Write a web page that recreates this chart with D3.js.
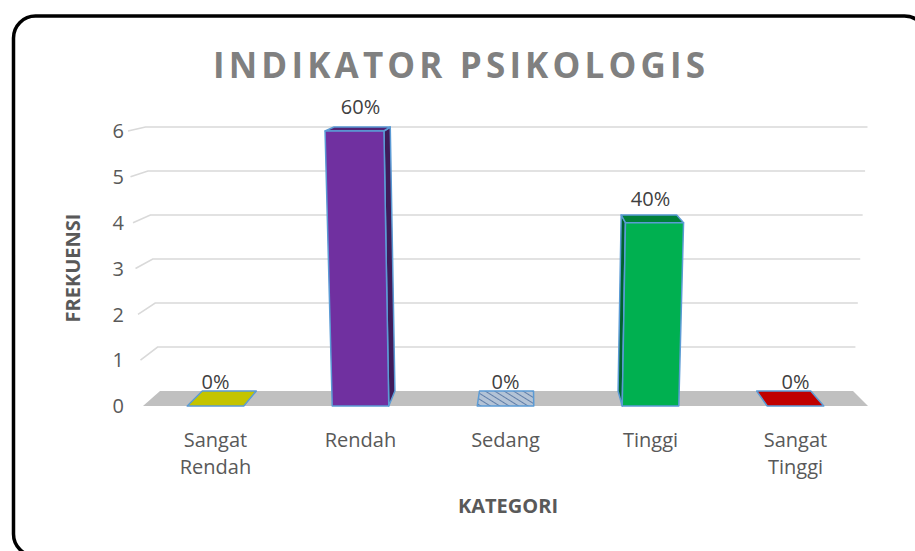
<!DOCTYPE html>
<html>
<head>
<meta charset="utf-8">
<script src="https://cdn.jsdelivr.net/npm/d3@7"></script>
<style>
  html, body { margin: 0; padding: 0; background: #fff; }
  svg { display: block; font-family: "Open Sans", sans-serif; }
</style>
</head>
<body>
<svg id="chart" width="915" height="551"></svg>
<script>
// Chart data
const categories = ["Sangat Rendah", "Rendah", "Sedang", "Tinggi", "Sangat Tinggi"];
const frequencies = [0, 6, 0, 4, 0];
const yTicks = [0, 1, 2, 3, 4, 5, 6];
const barColors = ["#c4c400", "#7030a0", "hatch", "#00b050", "#c00000"];
const chartTitle = "INDIKATOR PSIKOLOGIS";
const xTitle = "KATEGORI";
const yTitle = "FREKUENSI";

const total = d3.sum(frequencies);
const pct = d3.format(".0%");

const svg = d3.select("#chart");

// Hatch fill used by the "Sedang" column
const defs = svg.append("defs");
const pat = defs.append("pattern")
  .attr("id", "hatch").attr("patternUnits", "userSpaceOnUse")
  .attr("width", 5).attr("height", 5)
  .attr("patternTransform", "rotate(-58)");
pat.append("rect").attr("width", 5).attr("height", 5).attr("fill", "#b3c3d6");
pat.append("line").attr("x1", 0).attr("y1", 0).attr("x2", 0).attr("y2", 5)
  .attr("stroke", "#5575a3").attr("stroke-width", 1.8);

// Outer frame
svg.append("rect")
  .attr("x", 13.5).attr("y", 16).attr("width", 913).attr("height", 540)
  .attr("rx", 22).attr("ry", 22)
  .attr("fill", "#fff").attr("stroke", "#000").attr("stroke-width", 3.5);

// 3D perspective box: front plane (d=0) and back wall (d=1)
const yFront = d3.scaleLinear().domain([0, 6]).range([406, 131]);
const yBack = d3.scaleLinear().domain([0, 6]).range([391, 127]);
const halfFront = d3.scaleLinear().domain([0, 6]).range([362.5, 377.5]);
const halfBack = d3.scaleLinear().domain([0, 6]).range([346.5, 361]);
const cxFront = 505.5, cxBack = 506.5;

// Category band along normalised floor width [-1, 1]
const band = d3.scaleBand().domain(categories).range([-1, 1])
  .paddingInner(0.61).paddingOuter(0.305);

function P(u, v, d) {
  const xf = cxFront + u * halfFront(v), xb = cxBack + u * halfBack(v);
  return [(1 - d) * xf + d * xb, (1 - d) * yFront(v) + d * yBack(v)];
}
const poly = pts => "M" + pts.map(p => p.join(",")).join("L") + "Z";

// Floor
svg.append("path")
  .attr("d", poly([P(-1, 0, 0), P(1, 0, 0), P(1, 0, 1), P(-1, 0, 1)]))
  .attr("fill", "#c0c0c0");

// Back-wall gridlines and side-wall segments
const grid = svg.append("g").attr("fill", "none").attr("stroke", "#d9d9d9").attr("stroke-width", 1.6);
yTicks.filter(t => t > 0).forEach(t => {
  grid.append("path").attr("d", "M" + [P(-1, t, 0), P(-1, t, 1), P(1, t, 1)].map(p => p.join(",")).join("L"));
});

// Y tick labels
svg.append("g").selectAll("text").data(yTicks).join("text")
  .attr("x", 124).attr("y", d => yFront(d))
  .attr("dy", "0.36em").attr("text-anchor", "end")
  .attr("font-size", 20).attr("fill", "#595959")
  .text(d => d);

// Columns
const bars = svg.append("g").attr("stroke", "#5b9bd5").attr("stroke-width", 1.5).attr("stroke-linejoin", "round");
categories.forEach((c, i) => {
  const v = frequencies[i];
  const u0 = band(c), u1 = band(c) + band.bandwidth();
  const uc = (u0 + u1) / 2;
  const isHatch = barColors[i] === "hatch";
  const base = isHatch ? d3.color("#b3c3d6") : d3.color(barColors[i]);
  const frontFill = isHatch ? "url(#hatch)" : base.formatHex();
  const g = bars.append("g");
  if (v > 0) {
    const us = uc < 0 ? u1 : u0;
    g.append("path")
      .attr("d", poly([P(us, 0, 0), P(us, v, 0), P(us, v, 1), P(us, 0, 1)]))
      .attr("fill", base.darker(1.6).formatHex());
    g.append("path")
      .attr("d", poly([P(u0, v, 0), P(u1, v, 0), P(u1, v, 1), P(u0, v, 1)]))
      .attr("fill", base.darker(0.9).formatHex());
    g.append("path")
      .attr("d", poly([P(u0, 0, 0), P(u1, 0, 0), P(u1, v, 0), P(u0, v, 0)]))
      .attr("fill", frontFill);
  } else {
    g.append("path")
      .attr("d", poly([P(u0, 0, 0), P(u1, 0, 0), P(u1, 0, 1), P(u0, 0, 1)]))
      .attr("fill", frontFill);
  }
  // value label as share of total
  const lp = P(uc, 0, 0);
  svg.append("text")
    .attr("x", lp[0]).attr("y", yFront(v) - 17)
    .attr("text-anchor", "middle").attr("font-size", 20).attr("fill", "#404040")
    .text(pct(v / total));
});

// Category labels (wrapped by word)
categories.forEach(c => {
  const u = band(c) + band.bandwidth() / 2;
  const x = P(u, 0, 0)[0];
  const t = svg.append("text").attr("text-anchor", "middle")
    .attr("font-size", 20).attr("fill", "#595959");
  c.split(" ").forEach((w, k) => {
    t.append("tspan").attr("x", x).attr("y", 447 + k * 27).text(w);
  });
});

// Axis titles
svg.append("text")
  .attr("x", 508).attr("y", 513)
  .attr("text-anchor", "middle").attr("font-size", 20).attr("font-weight", 700)
  .attr("fill", "#595959").text(xTitle);
svg.append("text")
  .attr("transform", "translate(80,268) rotate(-90)")
  .attr("text-anchor", "middle").attr("font-size", 20).attr("font-weight", 700)
  .attr("fill", "#595959").text(yTitle);

// Chart title
svg.append("text")
  .attr("x", 213).attr("y", 78)
  .attr("textLength", 492).attr("lengthAdjust", "spacing")
  .attr("font-size", 35).attr("font-weight", 700)
  .attr("fill", "#808080").text(chartTitle);
</script>
</body>
</html>
